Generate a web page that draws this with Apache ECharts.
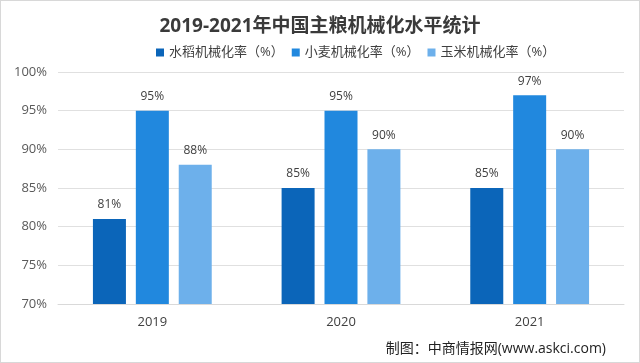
<!DOCTYPE html>
<html><head><meta charset="utf-8">
<script src="https://cdn.jsdelivr.net/npm/echarts@6/dist/echarts.min.js"></script>
<style>html,body{margin:0;padding:0;background:#fff;}#c{width:640px;height:363px;box-sizing:border-box;border:1px solid #d8d8d8;}</style>
</head><body><div id="c"></div>
<script>
var categories = ['2019', '2020', '2021'];
var seriesNames = ['水稻机械化率（%）', '小麦机械化率（%）', '玉米机械化率（%）'];
var rice = [81, 85, 85];
var wheat = [95, 95, 97];
var corn = [88, 90, 90];
var yTicks = [70, 75, 80, 85, 90, 95, 100];
var colors = ['#0B65B9', '#2188DE', '#6DB0EB'];

var chart = echarts.init(document.getElementById('c'));
var font = '"Open Sans","Noto Sans CJK SC",sans-serif';
function mk(name, data, color) {
  return {
    name: name, type: 'bar', data: data, barWidth: 33, barGap: '30%',
    itemStyle: { color: color },
    label: { show: true, position: 'top', distance: 8, formatter: '{c}%', color: '#404040', fontSize: 12, fontFamily: font }
  };
}
chart.setOption({
  animation: false,
  textStyle: { fontFamily: font },
  title: {
    text: '2019-2021年中国主粮机械化水平统计', left: 'center', top: 11,
    textStyle: { fontSize: 19, fontWeight: 'bold', color: '#3a3a3a', fontFamily: font }
  },
  legend: {
    left: 150, top: 40, itemWidth: 8, itemHeight: 8, itemGap: 8,
    icon: 'rect',
    textStyle: { fontSize: 13, color: '#404040', fontFamily: font },
    data: seriesNames
  },
  grid: { left: 57, right: 15, top: 71, bottom: 58 },
  xAxis: {
    type: 'category', data: categories,
    axisLine: { lineStyle: { color: '#d9d9d9' } },
    axisTick: { show: false },
    axisLabel: { color: '#404040', fontSize: 13, margin: 12 }
  },
  yAxis: {
    type: 'value', min: yTicks[0], max: yTicks[yTicks.length - 1], interval: 5,
    axisLabel: { formatter: '{value}%', color: '#595959', fontSize: 13, margin: 11 },
    axisLine: { show: false }, axisTick: { show: false },
    splitLine: { lineStyle: { color: '#e0e0e0' } }
  },
  graphic: [{
    type: 'text', right: 33, top: 341,
    style: { text: '制图：中商情报网(www.askci.com)', fill: '#222', fontSize: 14, fontFamily: font }
  }],
  series: [mk(seriesNames[0], rice, colors[0]), mk(seriesNames[1], wheat, colors[1]), mk(seriesNames[2], corn, colors[2])]
});
</script></body></html>
